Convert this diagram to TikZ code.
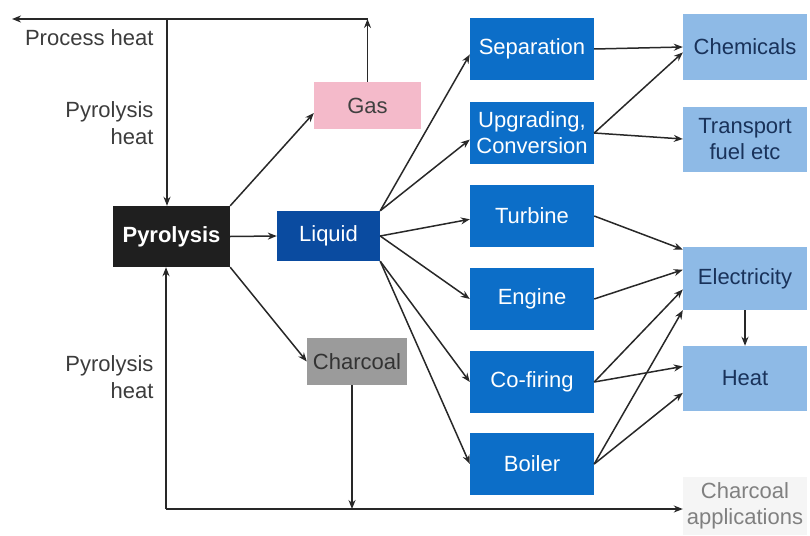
\documentclass[tikz,border=0pt]{standalone}
\usepackage{fontspec}
\setmainfont{Liberation Sans}
\usetikzlibrary{arrows.meta}

\definecolor{midblue}{RGB}{12,110,200}
\definecolor{liquidblue}{RGB}{10,75,160}
\definecolor{lightblue}{RGB}{142,186,230}
\definecolor{navytext}{RGB}{25,50,90}
\definecolor{gaspink}{RGB}{244,186,202}
\definecolor{coalgray}{RGB}{155,155,155}
\definecolor{linegray}{RGB}{40,40,40}
\definecolor{notegray}{RGB}{60,60,60}

\begin{document}
\begin{tikzpicture}[x=1pt,y=-1pt,
    box/.style={rectangle, inner sep=0pt, align=center, minimum width=124pt, minimum height=62pt,
      font=\fontsize{22}{26}\selectfont},
    midbox/.style={box, fill=midblue, text=white},
    outbox/.style={box, fill=lightblue, text=navytext, minimum height=65pt},
    flow/.style={draw=linegray, line width=1.5pt, -{Stealth[length=9pt,width=7pt]}},
    note/.style={anchor=east, align=right, text=notegray, font=\fontsize{22}{27}\selectfont}]

    \useasboundingbox (0,0) rectangle (810,535);

    % pyrolysis and its products
    \node[box, fill=black!88, text=white, minimum width=117pt, minimum height=61pt,
      font=\fontsize{22}{26}\selectfont\bfseries] (pyro) at (171.5,236.5) {Pyrolysis};
    \node[box, fill=gaspink, text=black!75, minimum width=107pt, minimum height=47pt] (gas) at (367.5,105.5) {Gas};
    \node[box, fill=liquidblue, text=white, minimum width=103pt, minimum height=50pt] (liquid) at (328.5,236) {Liquid};
    \node[box, fill=coalgray, text=black!80, minimum width=100pt, minimum height=47pt] (charcoal) at (357,361.5) {Charcoal};

    % processing routes
    \node[midbox] (sep) at (532,49) {Separation};
    \node[midbox] (upg) at (532,133) {Upgrading,\\Conversion};
    \node[midbox] (turb) at (532,216) {Turbine};
    \node[midbox] (eng) at (532,299) {Engine};
    \node[midbox] (cofire) at (532,382) {Co-firing};
    \node[midbox] (boiler) at (532,464) {Boiler};

    % end uses
    \node[outbox] (chem) at (745,47) {Chemicals};
    \node[outbox] (trans) at (745,139) {Transport\\fuel etc};
    \node[outbox, minimum height=63pt] (elec) at (745,278.5) {Electricity};
    \node[outbox] (heat) at (745,378.5) {Heat};
    \node[box, fill=black!4, text=black!50, minimum height=58pt] (chapp) at (745,506) {Charcoal\\applications};

    \node[note] (process) at (157,38) {Process heat};
    \node[note] (pyheatA) at (157,123) {Pyrolysis\\heat};
    \node[note] (pyheatB) at (157,377) {Pyrolysis\\heat};

    \draw[flow] (pyro.north east) -- (gas.188);
    \draw[flow] (pyro.east) -- (liquid.west);
    \draw[flow] (pyro.south east) -- (charcoal.west);

    \draw[flow] (liquid.north east) -- (sep.185);
    \draw[flow] (liquid.north east) -- (upg.186);
    \draw[flow] (liquid.east) -- (turb.183);
    \draw[flow] (liquid.east) -- (eng.west);
    \draw[flow] (liquid.south east) -- (cofire.west);
    \draw[flow] (liquid.south east) -- (boiler.west);

    \draw[flow] (sep.east) -- (chem.west);
    \draw[flow] (upg.east) -- (chem.185);
    \draw[flow] (upg.east) -- (trans.west);
    \draw[flow] (turb.east) -- (elec.155);
    \draw[flow] (eng.east) -- (elec.172);
    \draw[flow] (cofire.east) -- (elec.190);
    \draw[flow] (cofire.east) -- (heat.169);
    \draw[flow] (boiler.east) -- (elec.south west);
    \draw[flow] (boiler.east) -- (heat.193);
    \draw[flow] (elec.south) -- (heat.north);

    % heat loops top and bottom
    \coordinate (toploop) at (167,19);
    \coordinate (gasup) at (gas.north |- toploop);
    \coordinate (procend) at (12,19);
    \draw[flow] (gas.north) -- (gasup);
    \draw[flow] (gasup) -- (procend);
    \draw[flow] (toploop) -- (toploop |- pyro.north);

    \coordinate (botloop) at (166,509);
    \coordinate (coalout) at ([xshift=-5pt]charcoal.south);
    \draw[flow] (botloop) -- (botloop |- pyro.south);
    \draw[flow] (botloop) -- (chapp.west |- botloop);
    \draw[flow] (coalout) -- (coalout |- botloop);
\end{tikzpicture}
\end{document}
